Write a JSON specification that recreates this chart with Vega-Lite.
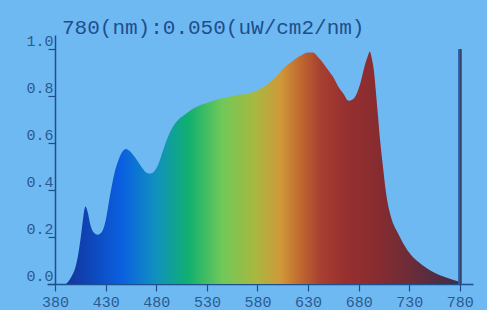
{
  "$schema": "https://vega.github.io/schema/vega-lite/v6.json",
  "width": 426,
  "height": 249,
  "autosize": "none",
  "padding": {"left": 47, "top": 35, "right": 14, "bottom": 26},
  "background": "#6fb9f2",
  "config": {"view": {"stroke": null}},
  "title": {
    "text": "780(nm):0.050(uW/cm2/nm)",
    "anchor": "start",
    "frame": "group",
    "dx": 15,
    "offset": -22,
    "baseline": "alphabetic",
    "font": "Liberation Mono",
    "fontSize": 21,
    "fontWeight": "normal",
    "color": "#1d4f8c"
  },
  "datasets": {
    "spectrum": [
      {"nm": 380, "v": 0}, {"nm": 390, "v": 0}, {"nm": 393, "v": 0.01}, {"nm": 396, "v": 0.03},
      {"nm": 400, "v": 0.07}, {"nm": 403, "v": 0.13}, {"nm": 406, "v": 0.22}, {"nm": 408, "v": 0.29},
      {"nm": 410, "v": 0.33}, {"nm": 412, "v": 0.31}, {"nm": 415, "v": 0.25}, {"nm": 418, "v": 0.22},
      {"nm": 422, "v": 0.21}, {"nm": 426, "v": 0.22}, {"nm": 430, "v": 0.27}, {"nm": 434, "v": 0.37},
      {"nm": 438, "v": 0.46}, {"nm": 442, "v": 0.52}, {"nm": 446, "v": 0.56}, {"nm": 450, "v": 0.575},
      {"nm": 454, "v": 0.565}, {"nm": 458, "v": 0.545}, {"nm": 462, "v": 0.52}, {"nm": 466, "v": 0.495},
      {"nm": 470, "v": 0.475}, {"nm": 474, "v": 0.47}, {"nm": 478, "v": 0.48}, {"nm": 482, "v": 0.51},
      {"nm": 486, "v": 0.56}, {"nm": 490, "v": 0.61}, {"nm": 494, "v": 0.65}, {"nm": 498, "v": 0.68},
      {"nm": 502, "v": 0.7}, {"nm": 508, "v": 0.72}, {"nm": 514, "v": 0.74}, {"nm": 520, "v": 0.755},
      {"nm": 530, "v": 0.77}, {"nm": 540, "v": 0.785}, {"nm": 550, "v": 0.795}, {"nm": 560, "v": 0.805},
      {"nm": 570, "v": 0.81}, {"nm": 580, "v": 0.825}, {"nm": 590, "v": 0.85}, {"nm": 600, "v": 0.89},
      {"nm": 606, "v": 0.92}, {"nm": 612, "v": 0.94}, {"nm": 618, "v": 0.96}, {"nm": 624, "v": 0.975},
      {"nm": 630, "v": 0.985}, {"nm": 635, "v": 0.985}, {"nm": 640, "v": 0.965}, {"nm": 645, "v": 0.94},
      {"nm": 650, "v": 0.91}, {"nm": 655, "v": 0.88}, {"nm": 660, "v": 0.84}, {"nm": 665, "v": 0.81},
      {"nm": 670, "v": 0.78}, {"nm": 674, "v": 0.785}, {"nm": 678, "v": 0.81}, {"nm": 682, "v": 0.86},
      {"nm": 686, "v": 0.93}, {"nm": 689, "v": 0.97}, {"nm": 691, "v": 0.99}, {"nm": 693, "v": 0.96},
      {"nm": 695, "v": 0.91}, {"nm": 697, "v": 0.82}, {"nm": 699, "v": 0.72}, {"nm": 701, "v": 0.62},
      {"nm": 704, "v": 0.5}, {"nm": 707, "v": 0.39}, {"nm": 712, "v": 0.285}, {"nm": 719, "v": 0.215},
      {"nm": 728, "v": 0.145}, {"nm": 740, "v": 0.09}, {"nm": 754, "v": 0.05}, {"nm": 768, "v": 0.026},
      {"nm": 778, "v": 0.012}, {"nm": 780, "v": 0.01}
    ],
    "cursor": [
      {"nm": 780, "top": 1.0, "bottom": 0}
    ]
  },
  "layer": [
    {
      "data": {"name": "spectrum"},
      "mark": {
        "type": "area",
        "interpolate": "monotone",
        "color": {
          "gradient": "linear",
          "x1": 0, "x2": 1, "y1": 0, "y2": 0,
          "stops": [
            {"offset": 0.0, "color": "#1a2f90"},
            {"offset": 0.0675, "color": "#1040b0"},
            {"offset": 0.165, "color": "#0a60e0"},
            {"offset": 0.2475, "color": "#1090c0"},
            {"offset": 0.33, "color": "#10b070"},
            {"offset": 0.4125, "color": "#70c858"},
            {"offset": 0.495, "color": "#a8b840"},
            {"offset": 0.5575, "color": "#d09838"},
            {"offset": 0.605, "color": "#c06a30"},
            {"offset": 0.655, "color": "#a84030"},
            {"offset": 0.7125, "color": "#983030"},
            {"offset": 0.795, "color": "#882c30"},
            {"offset": 0.8775, "color": "#6c2c38"},
            {"offset": 0.9575, "color": "#4c2c44"},
            {"offset": 1.0, "color": "#452c48"}
          ]
        }
      },
      "encoding": {
        "x": {
          "field": "nm", "type": "quantitative",
          "scale": {"domain": [372, 793], "nice": false, "zero": false},
          "axis": {
            "values": [380, 430, 480, 530, 580, 630, 680, 730, 780],
            "title": null, "grid": false,
            "domainColor": "#1d4f8c", "domainWidth": 1.5,
            "tickColor": "#1d4f8c", "tickSize": 7, "tickWidth": 1.2,
            "labelFont": "Liberation Mono", "labelFontSize": 15, "labelColor": "#2a5a90",
            "labelPadding": 3
          }
        },
        "y": {
          "field": "v", "type": "quantitative",
          "scale": {"domain": [0, 1.06], "nice": false},
          "axis": {
            "values": [0, 0.2, 0.4, 0.6, 0.8, 1.0],
            "format": ".1f",
            "offset": -8,
            "title": null, "grid": false,
            "domainColor": "#1d4f8c", "domainWidth": 1.5,
            "tickColor": "#1d4f8c", "tickSize": 7, "tickWidth": 1.2,
            "labelFont": "Liberation Mono", "labelFontSize": 15, "labelColor": "#2a5a90",
            "labelPadding": -5, "labelBaseline": "middle", "labelOffset": -9
          }
        },
        "y2": {"datum": 0}
      }
    },
    {
      "data": {"name": "cursor"},
      "mark": {"type": "rule", "color": "#2a5ea8", "strokeWidth": 3.5},
      "encoding": {
        "x": {"field": "nm", "type": "quantitative"},
        "y": {"field": "bottom", "type": "quantitative"},
        "y2": {"field": "top"}
      }
    },
    {
      "data": {"name": "cursor"},
      "mark": {"type": "rule", "color": "#3a3a4c", "strokeWidth": 1.2, "xOffset": 1},
      "encoding": {
        "x": {"field": "nm", "type": "quantitative"},
        "y": {"field": "bottom", "type": "quantitative"},
        "y2": {"field": "top"}
      }
    }
  ]
}
